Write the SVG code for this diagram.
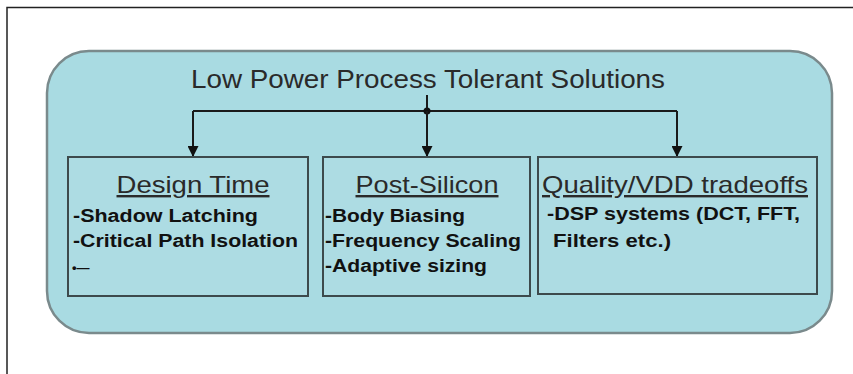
<svg xmlns="http://www.w3.org/2000/svg" width="853" height="374" viewBox="0 0 853 374">
<defs>
<style>
.frame{fill:none;stroke:#222;stroke-width:1.5}
.panel{fill:#A9DBE2;stroke:#7a8a8c;stroke-width:2.5}
.box{fill:#ADDCE3;stroke:#3d4a4c;stroke-width:2}
.title{font-family:"Liberation Sans",Arial,sans-serif;font-size:25px;fill:#2a2a2a}
.head{font-family:"Liberation Sans",Arial,sans-serif;font-size:24px;fill:#2a2a2a;text-decoration:underline}
.item{font-family:"Liberation Sans",Arial,sans-serif;font-size:18px;font-weight:bold;fill:#111}
.conn{fill:none;stroke:#1a1a1a;stroke-width:2}
</style>
<marker id="arr" viewBox="0 0 10 10" refX="10" refY="5" markerWidth="5.5" markerHeight="5.5" orient="auto" markerUnits="strokeWidth">
<path d="M0,0 L10,5 L0,10 z" fill="#111"/>
</marker>
</defs>
<rect x="0" y="0" width="853" height="374" fill="#fff"/>
<path class="frame" d="M7,374 V7.5 H853"/>
<g id="panel">
<rect class="panel" x="47" y="51" width="785" height="282" rx="42" ry="42"/>
<text class="title" x="428" y="88" text-anchor="middle" textLength="474" lengthAdjust="spacingAndGlyphs">Low Power Process Tolerant Solutions</text>
</g>
<g id="connectors">
<path class="conn" d="M427,95 V111"/>
<path class="conn" d="M193,111 H677"/>
<circle cx="427" cy="111" r="3.5" fill="#111"/>
<path class="conn" d="M193,111 V157" marker-end="url(#arr)"/>
<path class="conn" d="M427,111 V157" marker-end="url(#arr)"/>
<path class="conn" d="M677,111 V157" marker-end="url(#arr)"/>
</g>
<g id="design-time">
<rect class="box" x="68" y="157" width="240" height="139"/>
<text class="head" x="193" y="193" text-anchor="middle" textLength="153" lengthAdjust="spacingAndGlyphs">Design Time</text>
<text class="item" x="73" y="222" textLength="185" lengthAdjust="spacingAndGlyphs">-Shadow Latching</text>
<text class="item" x="73" y="247" textLength="225" lengthAdjust="spacingAndGlyphs">-Critical Path Isolation</text>
<text class="item" x="72" y="272" style="font-size:13px">•—</text>
</g>
<g id="post-silicon">
<rect class="box" x="323" y="157" width="207" height="139"/>
<text class="head" x="427" y="193" text-anchor="middle" textLength="143" lengthAdjust="spacingAndGlyphs">Post-Silicon</text>
<text class="item" x="325" y="222" textLength="140" lengthAdjust="spacingAndGlyphs">-Body Biasing</text>
<text class="item" x="325" y="247" textLength="196" lengthAdjust="spacingAndGlyphs">-Frequency Scaling</text>
<text class="item" x="325" y="272" textLength="162" lengthAdjust="spacingAndGlyphs">-Adaptive sizing</text>
</g>
<g id="quality-vdd">
<rect class="box" x="538" y="157" width="279" height="137"/>
<text class="head" x="675" y="193" text-anchor="middle" textLength="266" lengthAdjust="spacingAndGlyphs">Quality/VDD tradeoffs</text>
<text class="item" x="547" y="220" textLength="253" lengthAdjust="spacingAndGlyphs">-DSP systems (DCT, FFT,</text>
<text class="item" x="553" y="247" textLength="118" lengthAdjust="spacingAndGlyphs">Filters etc.)</text>
</g>
</svg>
